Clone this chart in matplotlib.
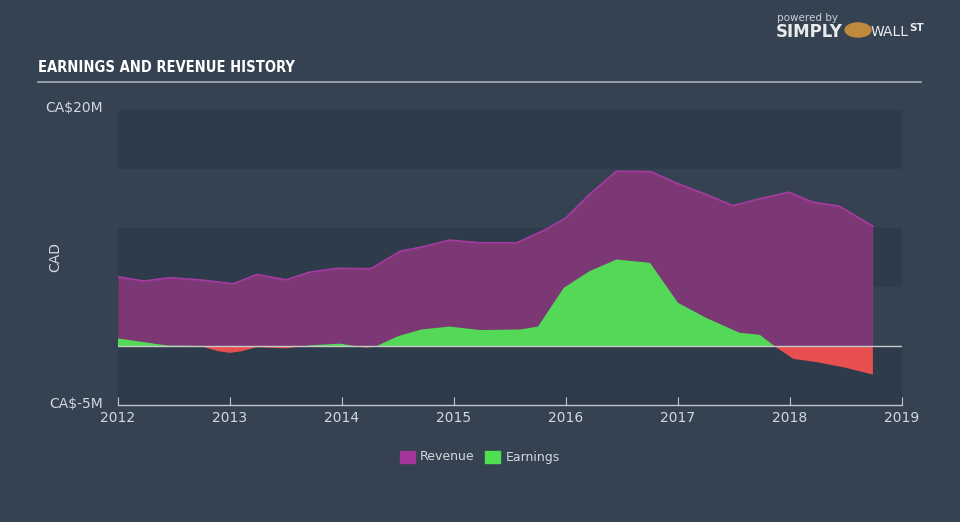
import numpy as np
import matplotlib.pyplot as plt
from matplotlib.patches import Rectangle

# values in CA$ millions, x in decimal years
rev_x = [2012.0, 2012.23, 2012.46, 2012.73, 2013.03, 2013.24, 2013.5, 2013.71, 2013.95, 2014.26,
         2014.52, 2014.72, 2014.96, 2015.23, 2015.56, 2015.82, 2016.0, 2016.21, 2016.45, 2016.76,
         2016.98, 2017.25, 2017.49, 2017.73, 2017.99, 2018.2, 2018.44, 2018.74]
revenue = [5.86, 5.5, 5.78, 5.6, 5.27, 6.06, 5.6, 6.25, 6.57, 6.55,
           8.03, 8.4, 8.97, 8.74, 8.74, 9.87, 10.86, 12.84, 14.8, 14.77,
           13.83, 12.84, 11.9, 12.47, 13.03, 12.19, 11.85, 10.15]

earn_x = [2012.0, 2012.44, 2012.73, 2012.9, 2013.0, 2013.1, 2013.24, 2013.5, 2013.71, 2013.98, 2014.22, 2014.31,
          2014.5, 2014.71, 2014.96, 2015.23, 2015.59, 2015.75, 2015.98, 2016.21, 2016.45, 2016.75,
          2017.0, 2017.25, 2017.55, 2017.73, 2017.86, 2018.03, 2018.24, 2018.5, 2018.74]
earnings = [0.64, 0.04, 0.0, -0.45, -0.58, -0.45, -0.1, -0.2, 0.05, 0.2, -0.15, 0.0,
            0.83, 1.4, 1.65, 1.35, 1.4, 1.65, 4.93, 6.34, 7.33, 7.05,
            3.66, 2.39, 1.12, 0.95, 0.0, -1.09, -1.37, -1.85, -2.42]

year_ticks = [2012, 2013, 2014, 2015, 2016, 2017, 2018, 2019]
bands = [(-5, 0), (5, 10), (15, 20)]

BG = '#344252'
DARK = '#2e3b4b'
REV_FILL = '#7b3874'
REV_LINE = '#a53a9f'
GREEN = '#53d957'
RED = '#e8504f'
TXT = '#d5d8dc'

fig = plt.figure(figsize=(9.6, 5.22), dpi=100, facecolor=BG)
ax = fig.add_axes([118 / 960, 1 - 405 / 522, 784 / 960, 295 / 522])
ax.set_facecolor(BG)
ax.set_xlim(2012, 2019)
ax.set_ylim(-5, 20)

for lo, hi in bands:
    ax.axhspan(lo, hi, color=DARK, lw=0, zorder=0)

rx = np.array(rev_x)
ry = np.array(revenue)
ax.fill_between(rx, 0, ry, color=REV_FILL, lw=0, zorder=2)
ax.plot(rx, ry, color=REV_LINE, lw=1.3, zorder=4)

ex = np.array(earn_x)
ey = np.array(earnings)
ax.fill_between(ex, 0, ey, where=ey >= 0, interpolate=True, color=GREEN, lw=0, zorder=3)
ax.fill_between(ex, 0, ey, where=ey <= 0, interpolate=True, color=RED, lw=0, zorder=3)

ax.axhline(0, color='#c9c9c9', lw=1, zorder=5)

for s in ['top', 'right', 'left']:
    ax.spines[s].set_visible(False)
ax.spines['bottom'].set_color('#c0c6cc')
ax.spines['bottom'].set_linewidth(1)
ax.set_yticks([])
ax.set_xticks(year_ticks)
ax.set_xticklabels([str(y) for y in year_ticks])
ax.tick_params(axis='x', direction='in', length=6, color='#c0c6cc', labelcolor=TXT,
               labelsize=10, pad=4)

# y labels
fig.text(103 / 960, 1 - 108 / 522, 'CA\\$20M', color=TXT, fontsize=10, ha='right', va='center')
fig.text(103 / 960, 1 - 404 / 522, 'CA\\$-5M', color=TXT, fontsize=10, ha='right', va='center')
fig.text(55 / 960, 1 - 257 / 522, 'CAD', color=TXT, fontsize=10, ha='center', va='center', rotation=90)

# title and rule
fig.text(38 / 960, 1 - 68 / 522, 'EARNINGS AND REVENUE HISTORY', color='white', fontsize=10.5,
         fontweight='bold', fontstretch='condensed', family=['DejaVu Sans'],
         ha='left', va='center')
fig.add_artist(plt.Line2D([38 / 960, 921 / 960], [1 - 81.5 / 522, 1 - 81.5 / 522],
                          color='#a8afb6', lw=1.2))

# logo text
fig.text(777 / 960, 1 - 18 / 522, 'powered by', color='#c9ced3', fontsize=7.5, ha='left', va='center')
fig.text(776 / 960, 1 - 32 / 522, 'SIMPLY', color='#e8eaec', fontsize=12, fontweight='bold',
         ha='left', va='center')
fig.add_artist(plt.Circle((858 / 960, 1 - 30 / 522), 0.0135, transform=fig.transFigure,
                          color='#c08a3e'))
fig.text(871 / 960, 1 - 32 / 522, 'WALL', color='#e8eaec', fontsize=10, ha='left', va='center')
fig.text(909 / 960, 1 - 28 / 522, 'ST', color='#e8eaec', fontsize=7.5, fontweight='bold',
         ha='left', va='center')

# legend
fig.add_artist(Rectangle((400 / 960, 1 - 463 / 522), 15 / 960, 12 / 522, color='#a5379a',
                         transform=fig.transFigure))
fig.text(420 / 960, 1 - 457 / 522, 'Revenue', color=TXT, fontsize=9, ha='left', va='center')
fig.add_artist(Rectangle((485 / 960, 1 - 463 / 522), 15 / 960, 12 / 522, color='#4fe04f',
                         transform=fig.transFigure))
fig.text(506 / 960, 1 - 457 / 522, 'Earnings', color=TXT, fontsize=9, ha='left', va='center')

plt.savefig('out.png', dpi=100, facecolor=BG)
plt.close()
